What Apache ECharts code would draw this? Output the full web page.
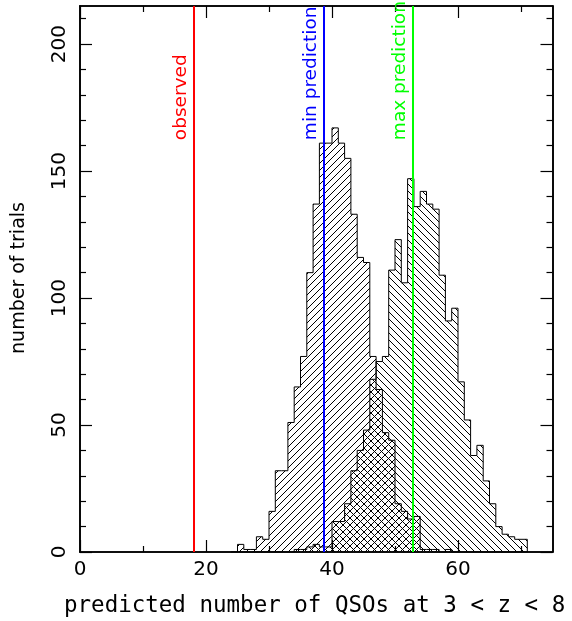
<!DOCTYPE html>
<html>
<head>
<meta charset="utf-8">
<script src="https://cdn.jsdelivr.net/npm/echarts@6/dist/echarts.min.js"></script>
<style>
  html, body { margin: 0; padding: 0; background: #fff; }
  #chart { width: 572px; height: 621px; }
</style>
</head>
<body>
<div id="chart"></div>
<script>
// Histogram bins: unit width, first bin starts at binStart
const binStart = 24;
const binWidth = 1;

// Trials per bin for the minimum-prediction model
const countsMin = [
  0, 3, 1, 1, 6, 5, 16, 32, 32, 51,
  65, 77, 110, 137, 161, 161, 167, 161, 155, 133,
  116, 114, 77, 64, 47, 44, 19, 16, 13, 14,
  1, 1, 1, 0, 1, 0, 0, 0, 0, 0,
  0, 0, 0, 0, 0, 0, 0
];

// Trials per bin for the maximum-prediction model
const countsMax = [
  0, 0, 0, 0, 0, 0, 0, 0, 0, 0,
  1, 1, 2, 3, 2, 2, 12, 12, 19, 32,
  40, 48, 68, 75, 77, 111, 123, 106, 147, 136,
  142, 137, 135, 109, 91, 96, 67, 52, 38, 42,
  28, 19, 10, 7, 6, 5, 5
];

// Reference values marked with vertical lines
const refNames = ['observed', 'min prediction', 'max prediction'];
const refValues = [18, 38.7, 52.8];
const refColors = ['#ff0000', '#0000ff', '#00ff00'];
const refLabelFrom = 161;

// Axis ticks
const xMajorTicks = [0, 20, 40, 60];
const xMinorTicks = [10, 30, 50, 70];
const yMajorTicks = [0, 50, 100, 150, 200];
const yMinorTicks = [10, 20, 30, 40, 60, 70, 80, 90, 110, 120, 130, 140, 160, 170, 180, 190, 210];

const xTitle = 'predicted number of QSOs at 3 < z < 8';
const yTitle = 'number of trials';

// Diagonal hatch tiles
function hatch(forward) {
  const p = 7;
  const c = document.createElement('canvas');
  c.width = p; c.height = p;
  const g = c.getContext('2d');
  g.strokeStyle = '#000';
  g.lineWidth = 1;
  g.beginPath();
  if (forward) {
    g.moveTo(-1, p + 1); g.lineTo(p + 1, -1);
    g.moveTo(-1, 1); g.lineTo(1, -1);
    g.moveTo(p - 1, p + 1); g.lineTo(p + 1, p - 1);
  } else {
    g.moveTo(-1, -1); g.lineTo(p + 1, p + 1);
    g.moveTo(-1, p - 1); g.lineTo(1, p + 1);
    g.moveTo(p - 1, -1); g.lineTo(p + 1, 1);
  }
  g.stroke();
  return c;
}

// Step outline of a histogram as [x, y] points
function stepPoints(counts) {
  const pts = [[binStart, 0]];
  counts.forEach(function (v, i) {
    const l = binStart + i * binWidth;
    pts.push([l, v], [l + binWidth, v]);
  });
  pts.push([binStart + counts.length * binWidth, 0]);
  return pts;
}

const font = 'DejaVu Sans';
const frame = { show: true, onZero: false, lineStyle: { color: '#000', width: 1.6 } };

function xAx(pos, ticks, len, withLabels) {
  return {
    type: 'value', min: 0, max: 75, position: pos,
    axisLine: frame,
    splitLine: { show: false },
    axisTick: { show: true, inside: true, length: len, customValues: ticks, lineStyle: { color: '#000', width: 1.2 } },
    axisLabel: withLabels
      ? { show: true, customValues: ticks, color: '#000', fontFamily: font, fontSize: 20, margin: 8 }
      : { show: false }
  };
}
function yAx(pos, ticks, len, withLabels) {
  return {
    type: 'value', min: 0, max: 215, position: pos,
    axisLine: frame,
    splitLine: { show: false },
    axisTick: { show: true, inside: true, length: len, customValues: ticks, lineStyle: { color: '#000', width: 1.2 } },
    axisLabel: withLabels
      ? { show: true, customValues: ticks, rotate: 90, color: '#000', fontFamily: font, fontSize: 20, margin: 10 }
      : { show: false }
  };
}

const chart = echarts.init(document.getElementById('chart'), null, { renderer: 'canvas' });

const markData = [];
refValues.forEach(function (v, i) {
  // full-height reference line
  markData.push({
    xAxis: v,
    lineStyle: { color: refColors[i], width: 2, type: 'solid' },
    label: { show: false }
  });
  // transparent segment carrying the rotated caption
  markData.push([
    {
      coord: [v, refLabelFrom],
      lineStyle: { color: 'rgba(0,0,0,0)', width: 1 },
      label: {
        show: true, formatter: refNames[i], position: 'insideStartTop', opacity: 1,
        color: refColors[i], fontFamily: font, fontSize: 18.5, distance: 3
      }
    },
    { coord: [v, 215] }
  ]);
});

chart.setOption({
  animation: false,
  backgroundColor: '#fff',
  grid: { left: 80, right: 19.5, top: 6, bottom: 69, containLabel: false },
  xAxis: [
    xAx('bottom', xMajorTicks, 12, true),
    xAx('bottom', xMinorTicks, 6, false),
    xAx('top', xMajorTicks, 12, false),
    xAx('top', xMinorTicks, 6, false)
  ],
  yAxis: [
    yAx('left', yMajorTicks, 12, true),
    yAx('left', yMinorTicks, 6, false),
    yAx('right', yMajorTicks, 12, false),
    yAx('right', yMinorTicks, 6, false)
  ],
  graphic: [
    {
      type: 'text', left: 64, bottom: 3,
      style: { text: xTitle, fill: '#000', font: '22.5px "DejaVu Sans Mono"' }
    },
    {
      type: 'text', x: 10, y: 278, rotation: Math.PI / 2, originX: 0, originY: 0,
      style: { text: yTitle, fill: '#000', font: '19px "DejaVu Sans"', align: 'center', verticalAlign: 'top' }
    }
  ],
  series: [
    {
      type: 'line', name: 'min', data: stepPoints(countsMin),
      showSymbol: false, symbol: 'none', z: 2,
      lineStyle: { color: '#000', width: 1 },
      areaStyle: { color: { image: hatch(true), repeat: 'repeat' }, opacity: 1 }
    },
    {
      type: 'line', name: 'max', data: stepPoints(countsMax),
      showSymbol: false, symbol: 'none', z: 2,
      lineStyle: { color: '#000', width: 1 },
      areaStyle: { color: { image: hatch(false), repeat: 'repeat' }, opacity: 1 }
    },
    {
      type: 'line', data: [], z: 5,
      markLine: { silent: true, symbol: 'none', animation: false, data: markData }
    }
  ]
});
</script>
</body>
</html>
